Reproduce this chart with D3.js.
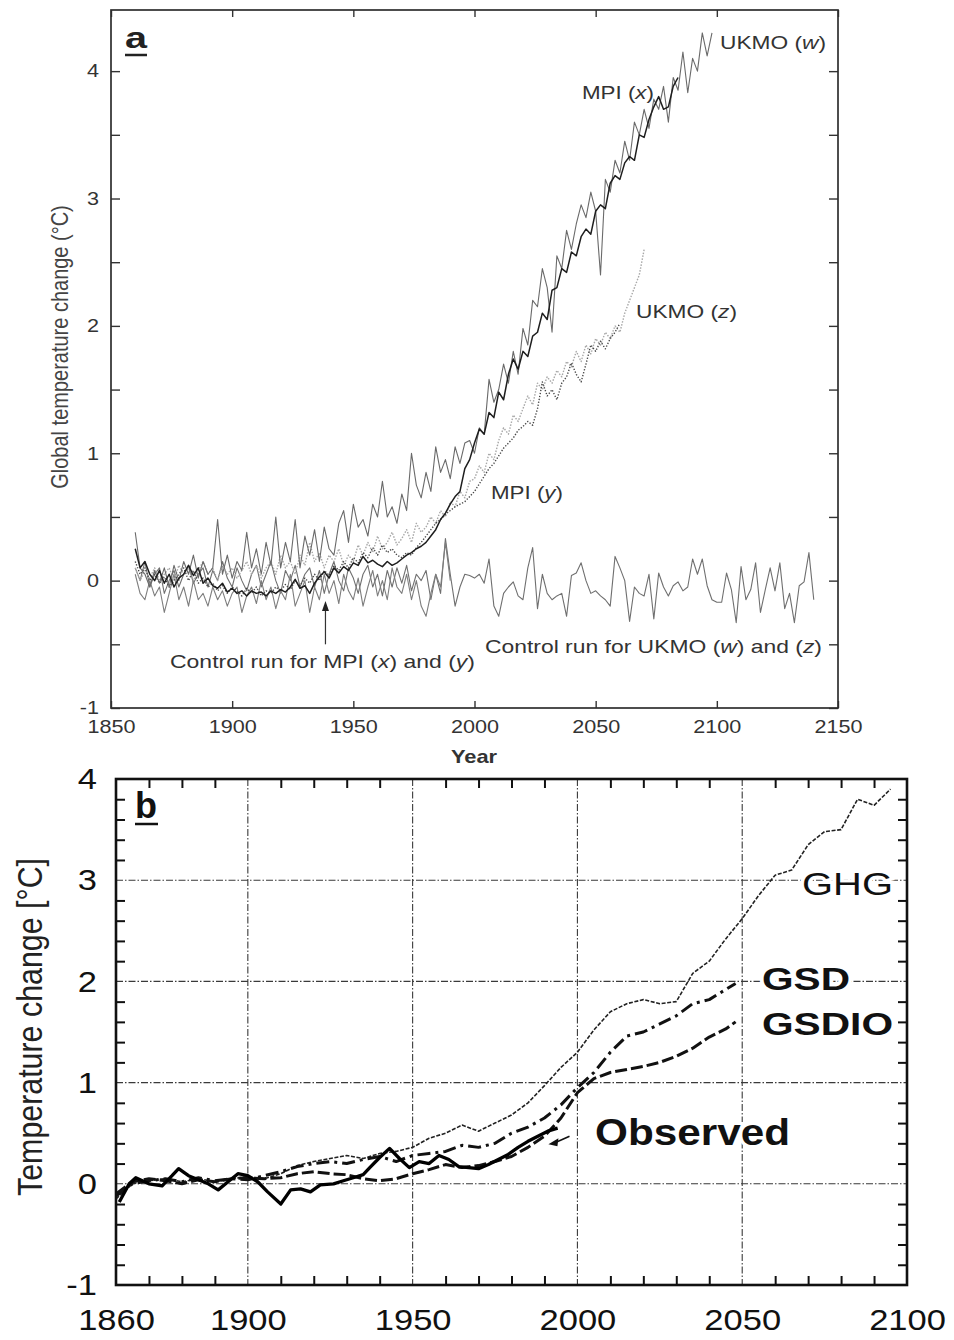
<!DOCTYPE html>
<html><head>
<meta charset="utf-8">
<title>Global temperature change - panels a and b</title>
<script src="https://cdn.jsdelivr.net/npm/d3@7"></script>
<style>
  body { margin: 0; background: #fff; }
  text { font-family: "Liberation Sans", Arial, Helvetica, sans-serif; }
</style>
</head>
<body>
<svg id="chart" width="954" height="1340"></svg>

<script>
// ---------- Panel a data (values every 2 years, start year given) ----------
const aYearTicks = [1850, 1900, 1950, 2000, 2050, 2100, 2150];
const aTempTicks = [-1, -0.5, 0, 0.5, 1, 1.5, 2, 2.5, 3, 3.5, 4];

// UKMO (w), 1860-2098
const ukmoW = [
  0.38, 0.1, 0.05, -0.05, 0.08, -0.02, 0.1, -0.05, 0.12, 0.0,
  0.15, 0.05, 0.2, 0.02, 0.15, 0.05, 0.1, 0.48, 0.05, 0.2,
  0.02, 0.15, 0.08, 0.38, 0.1, 0.25, 0.05, 0.3, 0.12, 0.5,
  0.1, 0.3, 0.15, 0.48, 0.1, 0.35, 0.2, 0.4, 0.15, 0.42,
  0.25, 0.2, 0.45, 0.55, 0.3, 0.6, 0.42, 0.48, 0.35, 0.6,
  0.5, 0.78, 0.5, 0.58, 0.45, 0.68, 0.55, 1.0, 0.75, 0.65,
  0.85, 0.7, 1.05, 0.85, 0.95, 0.8, 1.05, 0.92, 1.08, 1.1,
  1.0, 1.2, 1.15, 1.58, 1.4, 1.5, 1.7, 1.55, 1.8, 1.62,
  1.98, 1.85, 2.2, 2.15, 2.45, 2.3, 1.95, 2.55, 2.45, 2.75,
  2.6, 2.8, 2.95, 2.85, 3.05, 2.9, 2.4, 3.15, 3.05, 3.3,
  3.2, 3.45, 3.3, 3.6, 3.5, 3.7, 3.55, 3.78, 3.7, 3.88,
  3.6, 3.95, 3.85, 4.15, 3.83, 4.1, 4.0, 4.3, 4.12, 4.3
];
// MPI (x), 1860-2084
const mpiX = [
  0.25, 0.1, 0.15, 0.05, 0.0, 0.08, -0.02, 0.05, -0.05, 0.02,
  0.05, 0.12, 0.04, 0.1, -0.02, 0.02, -0.04, -0.06, -0.02, -0.09,
  -0.06, -0.1, -0.08, -0.12, -0.08, -0.1, -0.09, -0.12, -0.08, -0.1,
  -0.07, -0.09, -0.05, 0.01, -0.06, -0.04, -0.1, -0.02, 0.03, 0.07,
  0.02, 0.1, 0.06, 0.11, 0.08, 0.14, 0.12, 0.19, 0.14, 0.16,
  0.13, 0.11, 0.15, 0.12, 0.14, 0.17, 0.2, 0.22, 0.25, 0.27,
  0.3, 0.35, 0.4, 0.48, 0.53, 0.6, 0.66, 0.7, 0.88, 0.95,
  1.08, 1.19, 1.15, 1.32, 1.28, 1.48, 1.42, 1.62, 1.74, 1.66,
  1.8, 1.76, 1.92, 1.95, 2.1, 2.05, 2.28, 2.3, 2.45, 2.42,
  2.58, 2.55, 2.7, 2.76, 2.72, 2.9, 2.95, 2.92, 3.12, 3.18,
  3.15, 3.28, 3.33, 3.3, 3.5, 3.48, 3.62, 3.72, 3.8, 3.7,
  3.72, 3.88, 3.95
];
// UKMO (z), 1860-2070
const ukmoZ = [
  0.1, 0.0, 0.08, 0.02, 0.1, 0.0, 0.05, 0.1, 0.0, 0.12,
  0.05, 0.1, 0.0, 0.08, 0.15, 0.05, 0.1, 0.0, 0.12, 0.05,
  0.1, 0.02, 0.08, 0.15, 0.05, 0.12, 0.02, 0.1, 0.15, 0.05,
  0.2, 0.1, 0.15, 0.05, 0.2, 0.12, 0.3, 0.15, 0.22, 0.1,
  0.2, 0.15, 0.25, 0.12, 0.2, 0.15, 0.28, 0.2, 0.3, 0.22,
  0.35, 0.25, 0.3, 0.38, 0.28, 0.33, 0.4, 0.3, 0.45, 0.38,
  0.42, 0.5, 0.45, 0.55, 0.5, 0.62, 0.58, 0.7, 0.65, 0.78,
  0.8, 0.9, 0.85, 1.0, 0.95, 1.1, 1.2, 1.15, 1.3, 1.25,
  1.35, 1.45, 1.38, 1.55, 1.5, 1.6, 1.55, 1.65, 1.6, 1.72,
  1.68, 1.8, 1.72, 1.85, 1.78, 1.9, 1.85, 1.95, 1.9, 2.0,
  1.95, 2.1, 2.2, 2.3, 2.4, 2.6
];
// MPI (y), 1860-2060
const mpiY = [
  0.15, 0.05, 0.1, 0.0, 0.05, -0.02, 0.03, -0.05, 0.0, 0.05,
  0.1, 0.0, 0.08, -0.02, 0.02, -0.05, -0.02, -0.08, -0.04, -0.1,
  -0.05, -0.08, -0.12, -0.06, -0.1, -0.05, -0.12, -0.08, -0.1, -0.05,
  -0.08, -0.03, -0.07, 0.0, -0.04, 0.02, -0.02, 0.05, 0.0, 0.08,
  0.04, 0.12, 0.08, 0.15, 0.1, 0.18, 0.14, 0.22, 0.18, 0.26,
  0.2, 0.28, 0.22, 0.25, 0.2, 0.18, 0.22, 0.2, 0.26, 0.3,
  0.35, 0.4, 0.45, 0.48, 0.52, 0.55, 0.58, 0.6, 0.62, 0.66,
  0.7, 0.76, 0.82, 0.88, 0.92, 0.98, 1.04, 1.08, 1.12, 1.18,
  1.21, 1.25, 1.22, 1.35, 1.56, 1.45, 1.5, 1.42, 1.55, 1.6,
  1.71, 1.62, 1.56, 1.7, 1.85, 1.8, 1.88, 1.82, 1.9, 1.95,
  2.02
];
// Control run for MPI, 1860-1990
const ctrlMPI = [
  0.05, -0.1, -0.15, 0.0, -0.12, -0.05, -0.25, -0.1, 0.05, -0.15,
  -0.05, -0.2, 0.0, -0.15, -0.1, -0.2, -0.05, -0.15, -0.08, -0.2,
  -0.1, -0.05, -0.25, -0.12, -0.05, -0.18, 0.0, -0.15, -0.05, -0.22,
  -0.08, -0.15, 0.05, -0.2, -0.1, 0.0, -0.25, -0.05, -0.15, 0.05,
  -0.1, 0.0, -0.18, 0.05, -0.08, -0.15, 0.02, -0.2, -0.05, 0.08,
  -0.12, 0.0, -0.15, 0.1, -0.05, -0.1, 0.05, -0.15, 0.0, -0.2,
  -0.28, -0.1, 0.05, -0.05, 0.3, 0.0
];
// Control run for UKMO, 1860-2140
const ctrlUKMO = [
  0.1, 0.0, 0.15, -0.05, 0.05, 0.1, -0.1, 0.0, 0.08, -0.05,
  0.05, 0.12, -0.02, 0.05, 0.1, -0.05, 0.08, 0.0, 0.15, 0.02,
  -0.05, 0.1, 0.0, -0.08, 0.05, 0.12, -0.05, 0.05, 0.15, 0.0,
  -0.1, 0.08, 0.0, 0.12, -0.05, 0.05, 0.1, -0.05, 0.08, -0.1,
  0.05, 0.15, 0.0, -0.08, 0.1, 0.02, -0.1, 0.05, 0.12, -0.05,
  0.05, -0.12, 0.08, -0.05, 0.1, -0.02, 0.12, -0.08, 0.05, 0.0,
  0.08, -0.15, 0.05, -0.1, 0.33, 0.05, -0.2, -0.05, 0.05, 0.04,
  0.02, 0.05, -0.02, 0.17, -0.2, -0.28, -0.1, -0.05, -0.01, -0.12,
  -0.15, 0.1, 0.26, -0.22, 0.05, -0.1, -0.15, -0.12, -0.1, -0.28,
  0.04, 0.06, 0.14, 0.0, -0.1, -0.08, -0.12, -0.15, -0.2, 0.19,
  0.1, 0.0, -0.32, -0.05, -0.1, -0.12, 0.05, -0.3, 0.06, -0.05,
  -0.12, -0.04, -0.01, -0.08, -0.05, 0.17, 0.05, 0.17, -0.04, -0.15,
  -0.17, -0.17, 0.06, -0.07, -0.33, 0.11, -0.15, -0.07, 0.14, -0.25,
  -0.07, 0.1, -0.08, 0.14, -0.22, -0.1, -0.33, -0.04, -0.01, 0.22,
  -0.15
];

// ---------- Panel b data ----------
const bYearLabels = [1860, 1900, 1950, 2000, 2050, 2100];
const bGridYears = [1900, 1950, 2000, 2050];
const bMinorYears = [1870, 1880, 1890, 1910, 1920, 1930, 1940, 1960, 1970, 1980, 1990,
                     2010, 2020, 2030, 2040, 2060, 2070, 2080, 2090];
const bTempLabels = [-1, 0, 1, 2, 3, 4];
const bGridTemps = [0, 1, 2, 3];
const bMinorTemps = [-0.8, -0.6, -0.4, -0.2, 0.2, 0.4, 0.6, 0.8, 1.2, 1.4, 1.6, 1.8,
                     2.2, 2.4, 2.6, 2.8, 3.2, 3.4, 3.6, 3.8];

const ghgYears = d3.range(1860, 2096, 5);
const ghg = [-0.15, 0.0, 0.03, 0.05, 0.02, 0.05, 0.02, 0.05, 0.07, 0.05,
             0.1, 0.18, 0.22, 0.25, 0.28, 0.25, 0.3, 0.32, 0.36, 0.45,
             0.5, 0.58, 0.52, 0.6, 0.68, 0.8, 0.97, 1.15, 1.3, 1.52,
             1.7, 1.78, 1.82, 1.78, 1.8, 2.08, 2.2, 2.42, 2.62, 2.85,
             3.05, 3.1, 3.35, 3.48, 3.5, 3.8, 3.74, 3.9];

const modelYears = [...d3.range(1860, 2046, 5), 2048];
const gsd = [-0.12, 0.0, 0.03, 0.05, 0.02, 0.06, 0.03, 0.05, 0.04, 0.08,
             0.12, 0.17, 0.2, 0.22, 0.2, 0.24, 0.27, 0.22, 0.28, 0.3,
             0.32, 0.38, 0.36, 0.4, 0.5, 0.56, 0.65, 0.78, 0.95, 1.1,
             1.3, 1.46, 1.5, 1.58, 1.66, 1.78, 1.82, 1.92, 1.98];
const gsdio = [-0.1, 0.02, 0.05, 0.03, 0.0, 0.04, 0.02, 0.05, 0.06, 0.05,
               0.06, 0.1, 0.12, 0.1, 0.09, 0.05, 0.03, 0.05, 0.1, 0.14,
               0.19, 0.16, 0.18, 0.22, 0.27, 0.36, 0.47, 0.65, 0.9, 1.04,
               1.1, 1.13, 1.16, 1.2, 1.26, 1.34, 1.45, 1.53, 1.6];

const obsYears = [1861, 1864, 1866, 1870, 1874, 1877, 1879, 1882, 1885, 1888,
                  1891, 1894, 1897, 1900, 1903, 1906, 1910, 1913, 1916, 1919,
                  1922, 1926, 1929, 1932, 1935, 1937, 1940, 1943, 1946, 1949,
                  1952, 1955, 1958, 1961, 1964, 1967, 1970, 1973, 1976, 1979,
                  1982, 1985, 1988, 1991, 1994];
const observed = [-0.18, 0.0, 0.06, 0.0, -0.02, 0.08, 0.15, 0.08, 0.04, 0.0,
                  -0.06, 0.02, 0.1, 0.08, 0.02, -0.08, -0.2, -0.06, -0.05, -0.08,
                  -0.01, 0.0, 0.03, 0.06, 0.09, 0.16, 0.26, 0.35, 0.25, 0.16,
                  0.22, 0.2, 0.28, 0.24, 0.17, 0.16, 0.15, 0.19, 0.24, 0.29,
                  0.36, 0.42, 0.47, 0.52, 0.55];


const svg = d3.select("#chart");
svg.append("rect").attr("width", 954).attr("height", 1340).attr("fill", "#fff");

// scanned original is wider than tall, so text gets stretched sideways
function stretch(sel, k) {
  sel.each(function() {
    const w = this.getComputedTextLength();
    if (w > 0) d3.select(this).attr("textLength", w * k).attr("lengthAdjust", "spacingAndGlyphs");
  });
}
function styleAxis(g, color, sw) {
  g.attr("font-family", null).attr("font-size", null);
  g.select(".domain").remove();
  g.selectAll(".tick line").attr("stroke", color).attr("stroke-width", sw);
}
const every2 = (start, vals) => vals.map((v, i) => [start + i * 2, v]);
const pair = (years, vals) => vals.map((v, i) => [years[i], v]);


// ================= Panel a =================
const xA = d3.scaleLinear().domain([1850, 2150]).range([111, 838]);
const yA = d3.scaleLinear().domain([-1, 4.48]).range([708, 10]);
const gA = svg.append("g");
const lineA = d3.line().x(d => xA(d[0])).y(d => yA(d[1]));

const aSeries = [
  { data: every2(1860, ctrlUKMO), stroke: "#6f6f6f", width: 1.1, dash: null },
  { data: every2(1860, ctrlMPI),  stroke: "#7d7d7d", width: 1.1, dash: null },
  { data: every2(1860, ukmoZ),    stroke: "#a8a8a8", width: 1.4, dash: "1.5,1.5" },
  { data: every2(1860, mpiY),     stroke: "#474747", width: 1.4, dash: "1.3,1.7" },
  { data: every2(1860, ukmoW),    stroke: "#6a6a6a", width: 1.1, dash: null },
  { data: every2(1860, mpiX),     stroke: "#1e1e1e", width: 1.5, dash: null }
];
gA.selectAll("path.series")
  .data(aSeries)
  .join("path")
  .attr("class", "series")
  .attr("d", d => lineA(d.data))
  .attr("fill", "none")
  .attr("stroke", d => d.stroke)
  .attr("stroke-width", d => d.width)
  .attr("stroke-dasharray", d => d.dash)
  .attr("stroke-linejoin", "round");

const axA = gA.append("g");
axA.append("g").attr("transform", "translate(0,708)")
  .call(d3.axisBottom(xA).tickValues(aYearTicks).tickSize(-7).tickPadding(12).tickFormat(d => d))
  .call(styleAxis, "#333", 1.4);
axA.append("g").attr("transform", "translate(0,10)")
  .call(d3.axisTop(xA).tickValues(aYearTicks).tickSize(-7).tickFormat(""))
  .call(styleAxis, "#333", 1.4);
axA.append("g").attr("transform", "translate(111,0)")
  .call(d3.axisLeft(yA).tickValues(aTempTicks).tickSize(-9).tickPadding(12)
        .tickFormat(d => Number.isInteger(d) ? String(d) : ""))
  .call(styleAxis, "#333", 1.4);
axA.append("g").attr("transform", "translate(838,0)")
  .call(d3.axisRight(yA).tickValues(aTempTicks).tickSize(-9).tickFormat(""))
  .call(styleAxis, "#333", 1.4);
axA.selectAll(".tick text").attr("font-size", 18).attr("fill", "#333").call(stretch, 1.2);

gA.append("rect")
  .attr("x", xA(1850)).attr("y", yA(4.48))
  .attr("width", xA(2150) - xA(1850)).attr("height", yA(-1) - yA(4.48))
  .attr("fill", "none").attr("stroke", "#2e2e2e").attr("stroke-width", 1.7);

// axis titles
gA.append("text")
  .attr("transform", "translate(68,347) scale(1.2,1) rotate(-90)")
  .attr("text-anchor", "middle").attr("font-size", 20).attr("fill", "#444")
  .text("Global temperature change (°C)");
gA.append("text")
  .attr("x", 474).attr("y", 763).attr("text-anchor", "middle")
  .attr("font-size", 19).attr("font-weight", "bold").attr("fill", "#333")
  .text("Year").call(stretch, 1.15);

// panel letter
gA.append("text").attr("x", 125).attr("y", 48)
  .attr("font-size", 30).attr("font-weight", "bold").attr("fill", "#222")
  .text("a").attr("textLength", 22).attr("lengthAdjust", "spacingAndGlyphs");
gA.append("line").attr("x1", 125).attr("x2", 147).attr("y1", 55).attr("y2", 55)
  .attr("stroke", "#222").attr("stroke-width", 2.5);

// series labels, with italic letters
const aLabels = [
  { parts: ["UKMO (", "w", ")"], x: 720, y: 49, len: 106, size: 18 },
  { parts: ["MPI (", "x", ")"], x: 582, y: 99, len: 72, size: 18 },
  { parts: ["UKMO (", "z", ")"], x: 636, y: 318, len: 101, size: 18 },
  { parts: ["MPI (", "y", ")"], x: 491, y: 499, len: 72, size: 18 },
  { parts: ["Control run for MPI (", "x", ") and (", "y", ")"], x: 170, y: 668, len: 305, size: 19 },
  { parts: ["Control run for UKMO (", "w", ") and (", "z", ")"], x: 485, y: 653, len: 337, size: 19 }
];
aLabels.forEach(l => {
  const t = gA.append("text").attr("x", l.x).attr("y", l.y)
    .attr("font-size", l.size).attr("fill", "#333")
    .attr("textLength", l.len).attr("lengthAdjust", "spacingAndGlyphs");
  l.parts.forEach((p, i) => {
    t.append("tspan").attr("font-style", i % 2 === 1 ? "italic" : "normal").text(p);
  });
});

// arrow to the MPI control run
const arrowX = xA(1938.5);
gA.append("line").attr("x1", arrowX).attr("x2", arrowX)
  .attr("y1", yA(-0.5)).attr("y2", yA(-0.2))
  .attr("stroke", "#333").attr("stroke-width", 1.2);
gA.append("path")
  .attr("d", `M${arrowX},${yA(-0.16)} L${arrowX - 3.5},${yA(-0.16) + 10} L${arrowX + 3.5},${yA(-0.16) + 10} Z`)
  .attr("fill", "#222");


// ================= Panel b =================
const xB = d3.scaleLinear().domain([1860, 2100]).range([116, 907]);
const yB = d3.scaleLinear().domain([-1, 4]).range([1285, 779]);
const gB = svg.append("g");
const lineB = d3.line().x(d => xB(d[0])).y(d => yB(d[1]));

// grid
gB.selectAll("line.vgrid").data(bGridYears).join("line").attr("class", "vgrid")
  .attr("x1", d => xB(d)).attr("x2", d => xB(d))
  .attr("y1", yB(4)).attr("y2", yB(-1));
gB.selectAll("line.hgrid").data(bGridTemps).join("line").attr("class", "hgrid")
  .attr("x1", xB(1860)).attr("x2", xB(2100))
  .attr("y1", d => yB(d)).attr("y2", d => yB(d));
gB.selectAll("line.vgrid, line.hgrid")
  .attr("stroke", "#3a3a3a").attr("stroke-width", 1.1).attr("stroke-dasharray", "7,2,1.5,2");

const bSeries = [
  { data: pair(ghgYears, ghg),     stroke: "#222", width: 1.6, dash: "4,1.6" },
  { data: pair(modelYears, gsd),   stroke: "#111", width: 3,   dash: "13,5,3,5" },
  { data: pair(modelYears, gsdio), stroke: "#111", width: 3,   dash: "12,4" },
  { data: pair(obsYears, observed), stroke: "#000", width: 3.3, dash: null }
];
gB.selectAll("path.series")
  .data(bSeries)
  .join("path")
  .attr("class", "series")
  .attr("d", d => lineB(d.data))
  .attr("fill", "none")
  .attr("stroke", d => d.stroke)
  .attr("stroke-width", d => d.width)
  .attr("stroke-dasharray", d => d.dash)
  .attr("stroke-linejoin", "round");

const axB = gB.append("g");
axB.append("g").attr("transform", "translate(0,1285)")
  .call(d3.axisBottom(xB).tickValues(bMinorYears).tickSize(-9).tickFormat(""))
  .call(styleAxis, "#111", 2);
axB.append("g").attr("transform", "translate(0,779)")
  .call(d3.axisTop(xB).tickValues(bMinorYears).tickSize(-9).tickFormat(""))
  .call(styleAxis, "#111", 2);
axB.append("g").attr("transform", "translate(116,0)")
  .call(d3.axisLeft(yB).tickValues(bMinorTemps).tickSize(-9).tickFormat(""))
  .call(styleAxis, "#111", 2);
axB.append("g").attr("transform", "translate(907,0)")
  .call(d3.axisRight(yB).tickValues(bMinorTemps).tickSize(-9).tickFormat(""))
  .call(styleAxis, "#111", 2);
axB.append("g").attr("transform", "translate(0,1285)")
  .call(d3.axisBottom(xB).tickValues(bYearLabels).tickSize(0).tickPadding(24).tickFormat(d => d))
  .call(styleAxis, "#111", 0);
axB.append("g").attr("transform", "translate(116,0)")
  .call(d3.axisLeft(yB).tickValues(bTempLabels).tickSize(0).tickPadding(19).tickFormat(d => String(d)))
  .call(styleAxis, "#111", 0);
axB.selectAll(".tick text").attr("font-size", 30).attr("fill", "#111").call(stretch, 1.15);

gB.append("rect")
  .attr("x", xB(1860)).attr("y", yB(4))
  .attr("width", xB(2100) - xB(1860)).attr("height", yB(-1) - yB(4))
  .attr("fill", "none").attr("stroke", "#111").attr("stroke-width", 2.6);

gB.append("text")
  .attr("transform", "translate(42,1027) scale(1.15,1) rotate(-90)")
  .attr("text-anchor", "middle").attr("font-size", 30).attr("fill", "#222")
  .attr("textLength", 338).attr("lengthAdjust", "spacingAndGlyphs")
  .text("Temperature change [°C]");

gB.append("text").attr("x", 135).attr("y", 818)
  .attr("font-size", 36).attr("font-weight", "bold").attr("fill", "#111")
  .text("b").attr("textLength", 22).attr("lengthAdjust", "spacingAndGlyphs");
gB.append("line").attr("x1", 135).attr("x2", 158).attr("y1", 824).attr("y2", 824)
  .attr("stroke", "#111").attr("stroke-width", 2.5);

const bLabels = [
  { text: "GHG", x: 802, y: 895, size: 32, weight: "normal", len: 91 },
  { text: "GSD", x: 762, y: 990, size: 32, weight: "bold", len: 88 },
  { text: "GSDIO", x: 762, y: 1035, size: 32, weight: "bold", len: 131 },
  { text: "Observed", x: 595, y: 1145, size: 36, weight: "bold", len: 195 }
];
gB.selectAll("text.slabel").data(bLabels).join("text").attr("class", "slabel")
  .attr("x", d => d.x).attr("y", d => d.y)
  .attr("font-size", d => d.size).attr("font-weight", d => d.weight)
  .attr("fill", "#111")
  .attr("stroke", "#fff").attr("stroke-width", 6).attr("paint-order", "stroke")
  .attr("textLength", d => d.len).attr("lengthAdjust", "spacingAndGlyphs")
  .text(d => d.text);

// arrow pointing at the observed record
const ax0 = xB(1997.6), ay0 = yB(0.47), ax1 = xB(1991.2), ay1 = yB(0.39);
gB.append("line").attr("x1", ax0).attr("y1", ay0).attr("x2", ax1 + 6).attr("y2", ay1 - 1.3)
  .attr("stroke", "#111").attr("stroke-width", 1.6);
gB.append("path")
  .attr("d", `M${ax1},${ay1} L${ax1 + 10},${ay1 - 6} L${ax1 + 9},${ay1 + 2} Z`)
  .attr("fill", "#111");
</script>
</body>
</html>
